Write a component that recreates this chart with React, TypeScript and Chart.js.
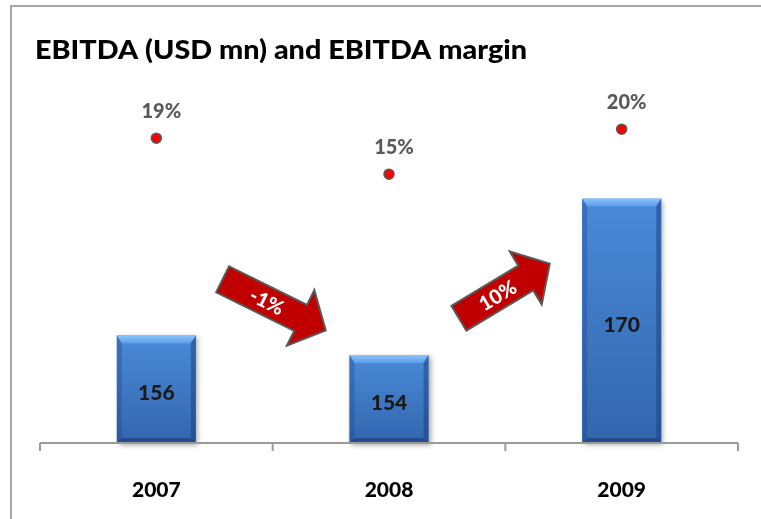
import React, { useEffect, useRef } from "react";
import { Chart, registerables } from "chart.js";

Chart.register(...registerables);

const categories = ["2007", "2008", "2009"];
const ebitda = [156, 154, 170];
const margin = [19, 15, 20];
const marginLabels = ["19%", "15%", "20%"];
const growthLabels = ["-1%", "10%"];

const TITLE = "EBITDA (USD mn) and EBITDA margin";
const FONT = "Lato, 'Open Sans', sans-serif";

// decorative arrow geometry (between categories i and i+1)
const arrowStyle = [
  { angle: 26.3, length: 115, yFrac: 0.603, dx: 1.5 },
  { angle: -31, length: 106, yFrac: 0.563, dx: -1 },
];

function drawArrow(ctx: CanvasRenderingContext2D, cx: number, cy: number, angleDeg: number, len: number, label: string) {
  const sh = 14.5;
  const hh = 31;
  const hl = 28;
  const L = len / 2;
  ctx.save();
  ctx.translate(cx, cy);
  ctx.rotate((angleDeg * Math.PI) / 180);
  ctx.beginPath();
  ctx.moveTo(-L, -sh);
  ctx.lineTo(L - hl, -sh);
  ctx.lineTo(L - hl, -hh);
  ctx.lineTo(L, 0);
  ctx.lineTo(L - hl, hh);
  ctx.lineTo(L - hl, sh);
  ctx.lineTo(-L, sh);
  ctx.closePath();
  ctx.fillStyle = "#c00000";
  ctx.fill();
  ctx.lineWidth = 2;
  ctx.strokeStyle = "#595959";
  ctx.lineJoin = "miter";
  ctx.stroke();
  ctx.fillStyle = "#ffffff";
  ctx.font = `900 20px ${FONT}`;
  ctx.textAlign = "center";
  ctx.textBaseline = "middle";
  ctx.fillText(label, -8, 1);
  ctx.restore();
}

function drawBevelBar(ctx: CanvasRenderingContext2D, x0: number, x1: number, y0: number, base: number) {
  const bt = 8;
  const bs = 5;
  const bb = 5;
  ctx.save();
  ctx.shadowColor = "rgba(0,0,0,0.35)";
  ctx.shadowBlur = 5;
  ctx.shadowOffsetX = 2;
  ctx.shadowOffsetY = 2;
  const g = ctx.createLinearGradient(0, y0, 0, base);
  g.addColorStop(0, "#4a8ad8");
  g.addColorStop(1, "#3366ad");
  ctx.fillStyle = g;
  ctx.fillRect(x0, y0, x1 - x0, base - y0);
  ctx.restore();
  ctx.save();
  const gt = ctx.createLinearGradient(0, y0, 0, y0 + bt);
  gt.addColorStop(0, "#8cc4fb");
  gt.addColorStop(1, "#5c9ce8");
  ctx.fillStyle = gt;
  ctx.beginPath();
  ctx.moveTo(x0, y0);
  ctx.lineTo(x1, y0);
  ctx.lineTo(x1 - bs, y0 + bt);
  ctx.lineTo(x0 + bs, y0 + bt);
  ctx.closePath();
  ctx.fill();
  ctx.fillStyle = "rgba(30,70,140,0.35)";
  ctx.beginPath();
  ctx.moveTo(x0, y0);
  ctx.lineTo(x0 + bs, y0 + bt);
  ctx.lineTo(x0 + bs, base - bb);
  ctx.lineTo(x0, base);
  ctx.closePath();
  ctx.fill();
  ctx.fillStyle = "rgba(20,55,120,0.45)";
  ctx.beginPath();
  ctx.moveTo(x1, y0);
  ctx.lineTo(x1 - bs, y0 + bt);
  ctx.lineTo(x1 - bs, base - bb);
  ctx.lineTo(x1, base);
  ctx.closePath();
  ctx.fill();
  ctx.fillStyle = "rgba(20,50,110,0.5)";
  ctx.beginPath();
  ctx.moveTo(x0, base);
  ctx.lineTo(x0 + bs, base - bb);
  ctx.lineTo(x1 - bs, base - bb);
  ctx.lineTo(x1, base);
  ctx.closePath();
  ctx.fill();
  ctx.restore();
}

const decorPlugin = {
  id: "decor",
  beforeDraw(chart: any) {
    const ctx: CanvasRenderingContext2D = chart.ctx;
    ctx.save();
    ctx.fillStyle = "#ffffff";
    ctx.fillRect(0, 0, chart.width, chart.height);
    ctx.strokeStyle = "#a6a6a6";
    ctx.lineWidth = 2;
    ctx.beginPath();
    ctx.moveTo(11, chart.height);
    ctx.lineTo(11, 6);
    ctx.lineTo(chart.width, 6);
    ctx.stroke();
    ctx.fillStyle = "#000000";
    ctx.font = `900 27px ${FONT}`;
    ctx.textAlign = "left";
    ctx.textBaseline = "alphabetic";
    const w = ctx.measureText(TITLE).width;
    const target = 492;
    ctx.save();
    ctx.translate(35, 59);
    ctx.scale(target / w, 1);
    ctx.fillText(TITLE, 0, 0);
    ctx.restore();
    ctx.restore();
  },
  afterDatasetDraw(chart: any, args: any) {
    if (args.index !== 0) return;
    const ctx: CanvasRenderingContext2D = chart.ctx;
    const area = chart.chartArea;
    const meta = chart.getDatasetMeta(0);
    meta.data.forEach((el: any, i: number) => {
      const { x, y, base, width } = el.getProps(["x", "y", "base", "width"], true);
      const b = Math.min(base, area.bottom);
      drawBevelBar(ctx, x - width / 2, x + width / 2, y, b);
      ctx.save();
      ctx.fillStyle = "#1a1a1a";
      ctx.font = `900 21px ${FONT}`;
      ctx.textAlign = "center";
      ctx.textBaseline = "middle";
      ctx.fillText(String(ebitda[i]), x, (y + b) / 2 + 4);
      ctx.restore();
    });
  },
  afterDraw(chart: any) {
    const ctx: CanvasRenderingContext2D = chart.ctx;
    const area = chart.chartArea;
    const xs = chart.scales.x;
    ctx.save();
    ctx.strokeStyle = "#9a9a9a";
    ctx.lineWidth = 2;
    ctx.beginPath();
    ctx.moveTo(area.left, area.bottom);
    ctx.lineTo(area.right, area.bottom);
    const bounds: number[] = [area.left];
    for (let i = 0; i < categories.length - 1; i++) {
      bounds.push((xs.getPixelForValue(i) + xs.getPixelForValue(i + 1)) / 2);
    }
    bounds.push(area.right);
    bounds.forEach((bx) => {
      ctx.moveTo(bx, area.bottom);
      ctx.lineTo(bx, area.bottom + 8);
    });
    ctx.stroke();
    ctx.fillStyle = "#000000";
    ctx.font = `900 21px ${FONT}`;
    ctx.textAlign = "center";
    ctx.textBaseline = "middle";
    categories.forEach((c, i) => {
      ctx.fillText(c, xs.getPixelForValue(i), area.bottom + 47);
    });
    const meta = chart.getDatasetMeta(1);
    ctx.fillStyle = "#595959";
    ctx.font = `900 20px ${FONT}`;
    meta.data.forEach((pt: any, i: number) => {
      ctx.fillText(marginLabels[i], pt.x + 5, pt.y - 27);
    });
    ctx.restore();
    growthLabels.forEach((lab, i) => {
      const st = arrowStyle[i];
      const cx = (xs.getPixelForValue(i) + xs.getPixelForValue(i + 1)) / 2 + st.dx;
      const cy = area.top + (area.bottom - area.top) * st.yFrac;
      drawArrow(ctx, cx, cy, st.angle, st.length, lab);
    });
  },
};

export default function App() {
  const ref = useRef<HTMLCanvasElement | null>(null);
  useEffect(() => {
    if (!ref.current) return;
    const chart = new Chart(ref.current, {
      type: "bar",
      data: {
        labels: categories,
        datasets: [
          {
            type: "bar",
            data: ebitda,
            yAxisID: "y",
            backgroundColor: "rgba(0,0,0,0)",
            borderWidth: 0,
            categoryPercentage: 1,
            barPercentage: 0.34,
            order: 2,
          } as any,
          {
            type: "line",
            data: margin,
            yAxisID: "y1",
            showLine: false,
            pointRadius: 5,
            pointBackgroundColor: "#ff0000",
            pointBorderColor: "#595959",
            pointBorderWidth: 1.5,
            order: 1,
          } as any,
        ],
      },
      options: {
        responsive: false,
        animation: false,
        devicePixelRatio: 1,
        layout: { padding: { left: 40, right: 23, top: 95, bottom: 76 } },
        plugins: {
          legend: { display: false },
          tooltip: { enabled: false },
          title: { display: false },
        },
        scales: {
          x: { display: false, offset: true },
          y: { display: false, min: 145, max: 180.6 },
          y1: { display: false, min: -14.9, max: 23.8, position: "right" },
        },
      },
      plugins: [decorPlugin],
    });
    return () => chart.destroy();
  }, []);
  return (
    <div style={{ position: "absolute", left: 0, top: 0, width: 761, height: 519 }}>
      <canvas ref={ref} width={761} height={519} />
    </div>
  );
}
